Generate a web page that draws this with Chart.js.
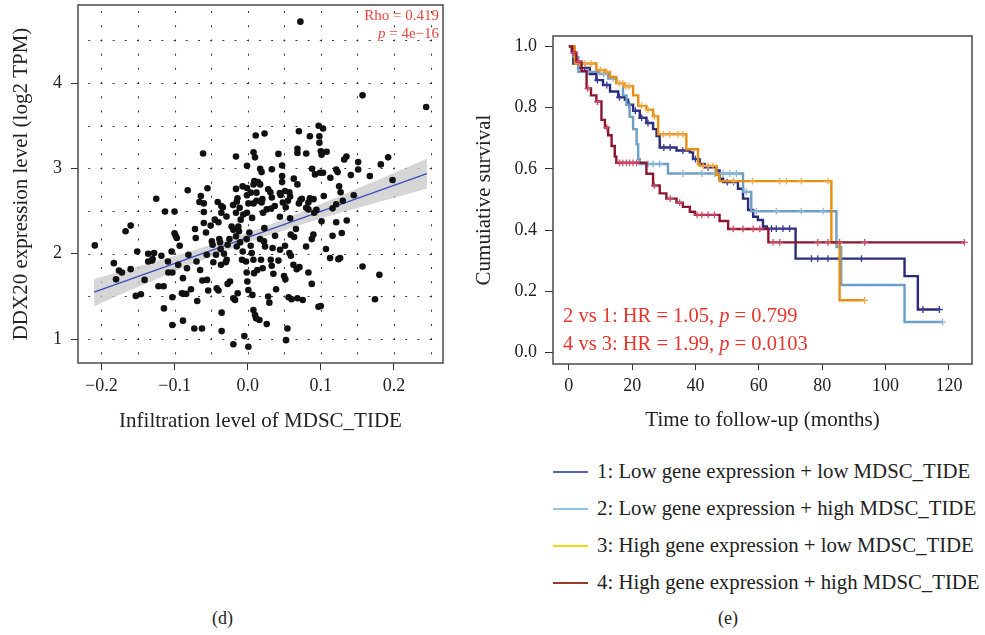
<!DOCTYPE html>
<html>
<head>
<meta charset="utf-8">
<script src="https://cdn.jsdelivr.net/npm/chart.js@4.4.0/dist/chart.umd.min.js"></script>
<style>
  body { margin: 0; background: #fff; width: 985px; height: 635px; position: relative; overflow: hidden;
         font-family: 'Liberation Serif', serif; color: #222; }
  canvas { position: absolute; top: 0; }
  #scatter { left: 0; }
  #km { left: 470px; }
  .leg-line { position: absolute; left: 553px; width: 35px; height: 2px; }
  .leg-text { position: absolute; left: 597px; font-size: 20.8px; line-height: 24px; white-space: nowrap; }
  .caption { position: absolute; top: 608px; font-size: 18px; }
</style>
</head>
<body>
<canvas id="scatter" width="470" height="440"></canvas>
<canvas id="km" width="515" height="440"></canvas>

<div class="leg-line" style="top:471px;background:#5663a8"></div>
<div class="leg-text" style="top:459px">1: Low gene expression + low MDSC_TIDE</div>
<div class="leg-line" style="top:508px;background:#8ec6e2"></div>
<div class="leg-text" style="top:496px">2: Low gene expression + high MDSC_TIDE</div>
<div class="leg-line" style="top:545px;background:#f0dc10"></div>
<div class="leg-text" style="top:533px">3: High gene expression + low MDSC_TIDE</div>
<div class="leg-line" style="top:582px;background:#9c3a2a"></div>
<div class="leg-text" style="top:570px">4: High gene expression + high MDSC_TIDE</div>

<div class="caption" style="left:212px">(d)</div>
<div class="caption" style="left:718px">(e)</div>

<script>
// ---- panel (d): scatter data ----
var scatterX = [
  0.072, 0.157, 0.244, 0.070, 0.097, 0.103, 0.085, 0.098, 0.098, 0.011, 0.023, 0.068, 0.068, 0.080, 0.100, 0.101,
  0.108, 0.042, 0.008, 0.010, -0.016, -0.061, -0.001, 0.047, 0.088, 0.121, 0.135, 0.132, 0.151, 0.151, 0.182, 0.192,
  0.123, 0.092, 0.099, 0.103, 0.141, 0.167, 0.198, 0.063, 0.068, 0.047, 0.047, 0.033, 0.017, 0.019, 0.009, 0.014,
  0.008, 0.017, -0.007, -0.016, 0.004, 0.012, 0.028, 0.031, 0.044, 0.051, 0.057, 0.113, 0.125, 0.127, 0.145, 0.130,
  0.116, 0.121, 0.104, 0.090, 0.083, 0.080, 0.094, 0.074, 0.058, 0.055, 0.048, 0.037, 0.032, 0.026, 0.021, 0.019,
  0.020, 0.008, 0.001, -0.011, -0.015, -0.014, -0.001, -0.001, -0.016, -0.001, -0.006, 0.006, -0.029, -0.036, -0.041, -0.036,
  -0.060, -0.066, -0.064, -0.055, -0.082, -0.060, -0.045, -0.113, -0.100, -0.125, 0.012,
  0.045, 0.033, -0.034, -0.020, 0.044, 0.058, 0.052, 0.072, 0.083, 0.070, 0.085, 0.091,
  -0.209, -0.183, -0.180, -0.176, -0.172, -0.167, -0.160, -0.160, -0.153, -0.146, -0.141, -0.151, -0.136, -0.136, -0.131, -0.128,
  -0.130, -0.122, -0.115, -0.1145, -0.118, -0.109, -0.1085, -0.103, -0.104, -0.103, -0.103, -0.100, -0.0985, -0.097, -0.095, -0.093,
  -0.090, -0.0885, -0.0885, -0.088, -0.084, -0.083, -0.081, -0.0775, -0.073, -0.072, -0.071, -0.070, -0.069, -0.065, -0.0625, -0.062,
  -0.060, -0.057, -0.056, -0.0556, -0.054, -0.0506, -0.049, -0.048, -0.047, -0.0433, -0.0424, -0.040, -0.040, -0.0388, -0.0378, -0.037,
  -0.0365, -0.0356, -0.0356, -0.0324, -0.030, -0.0287, -0.0274, -0.025, -0.0242, -0.0274, -0.022, -0.0196, -0.0196, -0.0196, -0.0173, -0.016,
  -0.015, -0.0137, -0.0128, -0.0119, -0.0105, -0.0096, -0.0078, -0.0068, -0.0046, -0.0023, -0.0014, -0.0014, -0.0005, 0.0009, 0.0009, 0.0023,
  0.0041, 0.0055, 0.0064, 0.0078, 0.0078, 0.0087, 0.010, 0.0114, 0.0132, 0.016, 0.0169, 0.0182, 0.0205, 0.0223, 0.0228, 0.0237,
  0.026, 0.028, 0.0296, 0.0315, 0.0328, 0.034, 0.0351, 0.0374, 0.0388, 0.042, 0.0442, 0.0497, 0.051, 0.0515, 0.0524, 0.0543,
  0.056, 0.057, 0.0588, 0.059, 0.060, 0.0625, 0.0634, 0.066, 0.067, 0.068, 0.0707, 0.0752, 0.0798, 0.083, 0.0876, 0.0876,
  0.0898, 0.0967, 0.0999, 0.101, 0.107, 0.1126, 0.116, 0.121, 0.124, 0.1263, 0.1286, 0.1354, 0.157, 0.180, 0.174
];
var scatterY = [
  4.72, 3.856, 3.72, 3.436, 3.50, 3.467, 3.377, 3.377, 3.30, 3.385, 3.41, 3.23, 3.18, 3.175, 3.20, 3.16,
  3.195, 3.17, 3.19, 3.13, 3.14, 3.175, 3.03, 3.035, 2.996, 2.988, 3.14, 3.105, 3.074, 2.988, 3.047, 3.13,
  2.957, 2.93, 2.95, 2.95, 2.922, 2.91, 2.864, 2.88, 2.813, 2.91, 2.84, 2.99, 2.996, 2.957, 2.852, 2.84,
  2.813, 2.813, 2.79, 2.76, 2.716, 2.716, 2.755, 2.72, 2.71, 2.735, 2.72, 2.89, 2.79, 2.72, 2.685, 2.62,
  2.533, 2.58, 2.677, 2.64, 2.60, 2.54, 2.514, 2.645, 2.67, 2.62, 2.60, 2.56, 2.53, 2.52, 2.48, 2.60,
  2.64, 2.59, 2.59, 2.54, 2.61, 2.65, 2.77, 2.685, 2.48, 2.48, 2.46, 2.42, 2.436, 2.48, 2.607, 2.56,
  2.59, 2.607, 2.677, 2.767, 2.744, 2.49, 2.40, 2.494, 2.494, 2.645, 2.62,
  2.69, 2.66, 2.544, 2.57, 2.434, 2.415, 2.544, 2.63, 2.52, 2.59, 2.65, 2.48,
  2.098, 1.89, 1.70, 1.804, 1.78, 2.263, 2.33, 1.82, 1.506, 1.525, 1.694, 2.027, 2.0, 1.91, 1.92, 2.008,
  1.937, 1.62, 1.62, 1.36, 1.976, 1.91, 1.78, 1.78, 2.027, 1.49, 1.165, 2.24, 2.21, 2.184, 1.87, 2.094,
  1.537, 1.714, 1.216, 1.53, 1.53, 1.83, 1.988, 1.584, 1.125, 2.29, 2.184, 1.91, 1.447, 1.81, 1.125, 1.686,
  2.36, 2.25, 1.988, 1.694, 1.569, 2.33, 2.145, 2.106, 1.90, 1.988, 1.596, 1.569, 2.37, 2.172, 2.133, 2.055,
  1.87, 1.31, 1.094, 2.0, 1.90, 1.93, 2.106, 2.172, 1.675, 1.647, 2.32, 2.28, 1.478, 0.94, 1.459, 2.204,
  2.086, 1.537, 2.32, 2.263, 2.133, 2.40, 1.93, 2.027, 1.035, 1.91, 2.172, 1.78, 1.675, 0.91, 1.576, 2.25,
  2.094, 2.008, 1.518, 1.93, 1.341, 1.773, 1.282, 1.243, 1.81, 1.223, 2.172, 1.93, 1.83, 2.145, 2.30, 2.086,
  1.176, 1.498, 1.427, 1.93, 1.86, 2.067, 1.765, 2.21, 1.584, 1.92, 2.047, 1.74, 2.094, 1.70, 0.988, 1.125,
  1.49, 2.008, 2.224, 1.976, 1.467, 1.87, 2.196, 2.29, 1.82, 1.478, 1.843, 1.459, 2.086, 1.78, 1.647, 2.172,
  2.224, 1.38, 1.388, 2.38, 2.055, 1.949, 2.21, 2.369, 1.937, 1.949, 2.243, 2.39, 1.85, 1.753, 1.467
];
// fitted line end points and the grey confidence band, as read
var fitX = [-0.21, 0.245];
var fitY = [1.55, 2.94];
var bandX = [-0.21, -0.15, -0.1, -0.05, 0, 0.05, 0.1, 0.15, 0.2, 0.245];
var bandUpper = [1.705, 1.85, 1.973, 2.106, 2.25, 2.405, 2.582, 2.765, 2.945, 3.115];
var bandLower = [1.385, 1.61, 1.793, 1.966, 2.13, 2.275, 2.412, 2.535, 2.655, 2.765];
var scatterXTicks = [-0.2, -0.1, 0, 0.1, 0.2];
var scatterYTicks = [1, 2, 3, 4];
var gridX = [-0.2, -0.15, -0.1, -0.05, 0, 0.05, 0.1, 0.15, 0.2, 0.25];
var gridY = [1, 1.5, 2, 2.5, 3, 3.5, 4, 4.5];

// ---- panel (e): Kaplan-Meier steps ----
var km1Time = [0, 1.4, 3, 6.6, 8.7, 10.8, 13, 15.6, 17.7, 18.7, 20.3, 22.4, 24.5, 26.6, 27.7, 28.7, 34, 38.2, 39.2, 41.3, 42.9, 46.6, 47.6, 48.7, 53.4, 55, 56.6, 58.2, 59.7, 61.3, 62.5, 71.6, 106, 110.2, 117];
var km1Surv = [1.0, 0.944, 0.93, 0.91, 0.89, 0.874, 0.853, 0.834, 0.826, 0.81, 0.79, 0.767, 0.75, 0.73, 0.707, 0.67, 0.66, 0.654, 0.632, 0.616, 0.605, 0.595, 0.568, 0.557, 0.535, 0.503, 0.466, 0.444, 0.433, 0.412, 0.405, 0.307, 0.25, 0.141, 0.141];
var km1Cens = [5, 9, 12, 16, 19, 21, 23, 25, 30, 32, 36, 40, 44, 50, 52, 64, 65.5, 67.6, 69.7, 76.6, 78.6, 81.8, 85.5, 92.4, 111.8, 117];

var km2Time = [0, 0.8, 1.5, 3, 9.8, 12.4, 15, 17.1, 18.2, 19.2, 20.3, 21.4, 21.9, 22.4, 31.3, 55, 57.6, 84.5, 86, 106, 118];
var km2Surv = [1.0, 0.987, 0.966, 0.917, 0.91, 0.895, 0.88, 0.84, 0.81, 0.77, 0.73, 0.68, 0.632, 0.616, 0.585, 0.525, 0.462, 0.345, 0.221, 0.1, 0.1];
var km2Cens = [6, 11, 14, 25, 26.6, 28.7, 36, 42, 46, 48.7, 50.8, 52.9, 56, 59.2, 65.5, 73.4, 80.3, 118];

var km3Time = [0, 1.9, 8.7, 11.4, 13, 15, 17.5, 20.3, 21.9, 24.5, 26.6, 28.2, 37.1, 40.8, 41.3, 46.6, 47.6, 82.9, 85.5, 93.4];
var km3Surv = [1.0, 0.944, 0.923, 0.917, 0.90, 0.88, 0.87, 0.84, 0.806, 0.793, 0.772, 0.713, 0.664, 0.616, 0.61, 0.58, 0.56, 0.36, 0.171, 0.171];
var km3Cens = [3, 4, 5, 7, 10, 12, 16, 17, 18, 19, 23, 25, 27, 29.8, 31.9, 34.5, 36, 42.4, 44, 45.5, 52, 58, 66.6, 68.7, 73.4, 81.8, 93.4];

var km4Time = [0, 1, 2.4, 4, 5.6, 7, 8.7, 10.3, 11.4, 12.4, 13.5, 14.5, 15, 22.9, 24.5, 26.6, 28.7, 30.8, 34, 36, 38.2, 39.8, 47.6, 50.3, 63, 124.9];
var km4Surv = [1.0, 0.98, 0.95, 0.92, 0.863, 0.84, 0.82, 0.76, 0.735, 0.71, 0.675, 0.64, 0.62, 0.62, 0.584, 0.546, 0.52, 0.503, 0.49, 0.476, 0.46, 0.45, 0.43, 0.404, 0.36, 0.36];
var km4Cens = [1.5, 3, 6, 9, 12, 16, 17, 18.2, 19.2, 20.3, 21.4, 27, 32, 35, 40.5, 42, 44, 46, 51.9, 55, 58.2, 60.3, 64.5, 66.6, 78.6, 81.8, 85.5, 93.4, 124.9];

var kmXTicks = [0, 20, 40, 60, 80, 100, 120];
var kmYTicks = [0, 0.2, 0.4, 0.6, 0.8, 1.0];

Chart.defaults.font.family = "'Liberation Serif', 'Times New Roman', serif";
Chart.defaults.color = '#222';

function pts(xs, ys) {
  return xs.map(function(x, i) { return {x: x, y: ys[i]}; });
}

// survival level of a step curve at time t, used to sit censor marks on it
function stepAt(times, surv, t) {
  var s = surv[0];
  for (var i = 0; i < times.length; i++) {
    if (times[i] <= t) s = surv[i];
  }
  return s;
}

function fmtTick(v) {
  if (Math.abs(v) < 1e-9) return '0.0';
  return (v < 0 ? '\u2212' : '') + Math.abs(v).toFixed(1);
}

// draws a run of [text, italic] pieces; align 'left' or 'right'
function drawParts(ctx, parts, x, y, size, align) {
  var widths = parts.map(function(p) {
    ctx.font = (p[1] ? 'italic ' : '') + size + "px 'Liberation Serif', serif";
    return ctx.measureText(p[0]).width;
  });
  var total = widths.reduce(function(a, b) { return a + b; }, 0);
  var cx = align === 'right' ? x - total : x;
  ctx.textAlign = 'left';
  ctx.textBaseline = 'alphabetic';
  parts.forEach(function(p, i) {
    ctx.font = (p[1] ? 'italic ' : '') + size + "px 'Liberation Serif', serif";
    ctx.fillText(p[0], cx, y);
    cx += widths[i];
  });
}

var framePlugin = {
  id: 'frame',
  afterDatasetsDraw: function(chart) {
    var a = chart.chartArea, ctx = chart.ctx;
    ctx.save();
    ctx.strokeStyle = '#4a4a4a';
    ctx.lineWidth = 1.5;
    ctx.strokeRect(a.left, a.top, a.right - a.left, a.bottom - a.top);
    ctx.restore();
  }
};

// dotted reference grid of panel (d): short dashes, three per cell
var dottedGrid = {
  id: 'dottedGrid',
  beforeDatasetsDraw: function(chart) {
    var ctx = chart.ctx, a = chart.chartArea, sx = chart.scales.x, sy = chart.scales.y;
    var stepX = (sx.getPixelForValue(gridX[1]) - sx.getPixelForValue(gridX[0])) / 3;
    var stepY = (sy.getPixelForValue(gridY[0]) - sy.getPixelForValue(gridY[1])) / 3;
    var x0 = sx.getPixelForValue(gridX[0]);
    var y0 = sy.getPixelForValue(gridY[0]);
    ctx.save();
    ctx.strokeStyle = '#3a3a3a';
    ctx.lineWidth = 1.1;
    ctx.beginPath();
    gridY.forEach(function(v) {
      var py = Math.round(sy.getPixelForValue(v)) + 0.5;
      for (var k = -5; k < 60; k++) {
        var px = x0 + k * stepX;
        if (px < a.left + 2 || px > a.right - 2) continue;
        ctx.moveTo(px - 1, py); ctx.lineTo(px + 1, py);
      }
    });
    gridX.forEach(function(v) {
      var px = Math.round(sx.getPixelForValue(v)) + 0.5;
      for (var k = -5; k < 60; k++) {
        var py = y0 - k * stepY;
        if (py < a.top + 2 || py > a.bottom - 2) continue;
        ctx.moveTo(px, py - 1); ctx.lineTo(px, py + 1);
      }
    });
    ctx.stroke();
    ctx.restore();
  }
};

var scatterText = {
  id: 'scatterText',
  afterDatasetsDraw: function(chart) {
    var ctx = chart.ctx;
    ctx.save();
    ctx.fillStyle = '#e8453c';
    drawParts(ctx, [['Rho = 0.419', false]], 439, 20, 15, 'right');
    drawParts(ctx, [['p', true], [' = 4e\u221216', false]], 439, 38, 15, 'right');
    ctx.restore();
  }
};

var kmText = {
  id: 'kmText',
  afterDatasetsDraw: function(chart) {
    var ctx = chart.ctx;
    ctx.save();
    ctx.fillStyle = '#e8352b';
    drawParts(ctx, [['2 vs 1: HR = 1.05, ', false], ['p', true], [' = 0.799', false]], 93, 322, 20.5, 'left');
    drawParts(ctx, [['4 vs 3: HR = 1.99, ', false], ['p', true], [' = 0.0103', false]], 93, 350, 20.5, 'left');
    ctx.restore();
  }
};

function fixSize(prop, size) {
  return function(s) {
    s[prop] = size;
    s.paddingTop = 0; s.paddingBottom = 0; s.paddingLeft = 0; s.paddingRight = 0;
  };
}

function tickList(list) {
  return function(s) { s.ticks = list.map(function(v) { return {value: v}; }); };
}

// ---- panel (d) ----
new Chart(document.getElementById('scatter'), {
  type: 'scatter',
  data: {
    datasets: [
      { data: pts(scatterX, scatterY), pointRadius: 3.3, pointHoverRadius: 3.3,
        backgroundColor: '#111', borderWidth: 0 },
      { data: pts(fitX, fitY), showLine: true, borderColor: '#3b4bc0', borderWidth: 1.3, pointRadius: 0 },
      { data: pts(bandX, bandUpper), showLine: true, borderWidth: 0, pointRadius: 0,
        fill: '+1', backgroundColor: 'rgba(200,200,200,0.75)', tension: 0.3 },
      { data: pts(bandX, bandLower), showLine: true, borderWidth: 0, pointRadius: 0, tension: 0.3 }
    ]
  },
  options: {
    responsive: false,
    animation: false,
    layout: { padding: { top: 5, right: 27, left: 0, bottom: 0 } },
    plugins: { legend: { display: false }, tooltip: { enabled: false } },
    scales: {
      x: {
        type: 'linear', min: -0.232, max: 0.267,
        afterBuildTicks: tickList(scatterXTicks),
        afterFit: fixSize('height', 77),
        ticks: { font: { size: 18 }, padding: 5, color: '#222', callback: fmtTick },
        grid: { drawOnChartArea: false, tickLength: 7, color: '#333' },
        border: { display: false },
        title: { display: true, text: 'Infiltration level of MDSC_TIDE', font: { size: 21 },
                 color: '#222', padding: { top: 0, bottom: 6 } }
      },
      y: {
        type: 'linear', min: 0.72, max: 4.915,
        afterBuildTicks: tickList(scatterYTicks),
        afterFit: fixSize('width', 78),
        ticks: { font: { size: 18 }, padding: 9, color: '#222', callback: function(v) { return String(v); } },
        grid: { drawOnChartArea: false, tickLength: 7, color: '#333' },
        border: { display: false },
        title: { display: true, text: 'DDX20 expression level (log2 TPM)', font: { size: 21 },
                 color: '#222', padding: { top: 9, bottom: 0 } }
      }
    }
  },
  plugins: [dottedGrid, framePlugin, scatterText]
});

// ---- panel (e) ----
var groups = [
  { t: km1Time, s: km1Surv, c: km1Cens, line: '#2b2b7c', mark: '#3c3c96' },
  { t: km2Time, s: km2Surv, c: km2Cens, line: '#6d9ec4', mark: '#8cb6d6' },
  { t: km3Time, s: km3Surv, c: km3Cens, line: '#e88e10', mark: '#f0a848' },
  { t: km4Time, s: km4Surv, c: km4Cens, line: '#8b1630', mark: '#d04c6c' }
];
var kmSets = [];
groups.forEach(function(g) {
  kmSets.push({ data: pts(g.t, g.s), showLine: true, stepped: true, borderColor: g.line,
                borderWidth: 2.4, pointRadius: 0, fill: false });
  kmSets.push({ data: g.c.map(function(t) { return {x: t, y: stepAt(g.t, g.s, t)}; }),
                pointStyle: 'cross', pointRadius: 3.4, borderColor: g.mark, borderWidth: 1.3,
                backgroundColor: g.mark });
});

new Chart(document.getElementById('km'), {
  type: 'scatter',
  data: { datasets: kmSets.reverse() },
  options: {
    responsive: false,
    animation: false,
    layout: { padding: { top: 36, right: 13, left: 0, bottom: 0 } },
    plugins: { legend: { display: false }, tooltip: { enabled: false } },
    scales: {
      x: {
        type: 'linear', min: -5, max: 127.3,
        afterBuildTicks: tickList(kmXTicks),
        afterFit: fixSize('height', 76),
        ticks: { font: { size: 18 }, padding: 5, color: '#222', callback: function(v) { return String(v); } },
        grid: { drawOnChartArea: false, tickLength: 6, color: '#333' },
        border: { display: false },
        title: { display: true, text: 'Time to follow-up (months)', font: { size: 21 },
                 color: '#222', padding: { top: 0, bottom: 7 } }
      },
      y: {
        type: 'linear', min: -0.037, max: 1.034,
        afterBuildTicks: tickList(kmYTicks),
        afterFit: fixSize('width', 83),
        ticks: { font: { size: 18 }, padding: 8, color: '#222', callback: function(v) { return v.toFixed(1); } },
        grid: { drawOnChartArea: false, tickLength: 8, color: '#333' },
        border: { display: false },
        title: { display: true, text: 'Cumuiative survival', font: { size: 21 },
                 color: '#222', padding: { top: 2, bottom: 0 } }
      }
    }
  },
  plugins: [framePlugin, kmText]
});
</script>
</body>
</html>
